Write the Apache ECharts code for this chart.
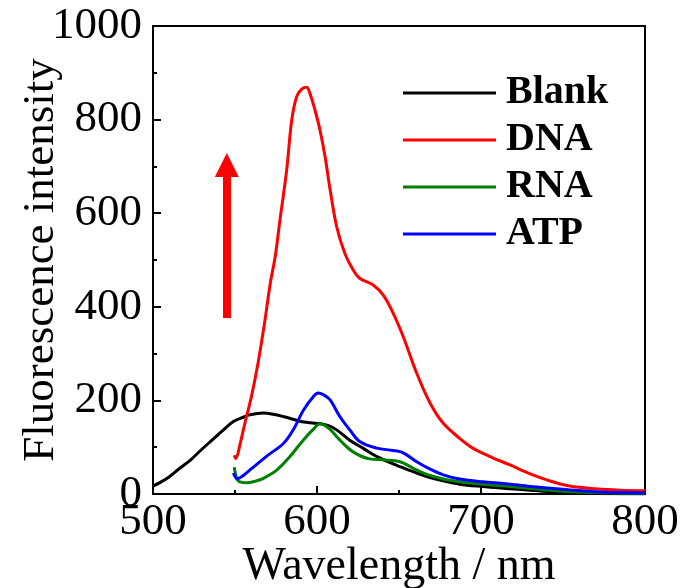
<!DOCTYPE html>
<html><head><meta charset="utf-8">
<script src="https://cdn.jsdelivr.net/npm/echarts@6/dist/echarts.min.js"></script>
<style>html,body{margin:0;padding:0;background:#fff}#c{width:684px;height:588px}</style>
</head><body><div id="c"></div>
<script>
const xTicks = [500, 600, 700, 800];
const yTicks = [0, 200, 400, 600, 800, 1000];

const blankX = [500,505,510,516,523,529,535,543,549,555,559,567,574,580,590,596,602,607,612,620,628,636,646,657,667,677,687,701,715,730,750,770,800];
const blankY = [17,26,37,54,73,93,112,137,155,164,169,173,170,165,155,152,150,146,137,115,98,81,65,50,37,28,21,16,12,8,3,1,0];

const dnaX = [549.5,550.5,553,556,560,564,568,571.5,574.5,577.4,581.5,584.6,587.6,590.7,593.7,595.7,598.8,601.8,604.9,608,612,617,622,626,634,640.4,646.5,652.6,660.8,669,677,687,695,705.5,717.7,730,742,754,770,785,800];
const dnaY = [83,76,105,151,208,279,365,450,507,585,692,799,849,865,869,856,820,778,721,650,571,514,479,461,447,425,386,336,258,194,151,119,98,80,62,43,28,17,11,8,7];

const rnaX = [549.5,550.5,551.5,553,557,562,567,575.4,583.5,591.6,597.7,601.8,604,608,614,622,632,640.4,650.6,658.7,667,677,687,701,715,730,750,770,800];
const rnaY = [57,40,30,26,24,27,33,51,80,115,138,150,148,138,115,90,75,73,69,55,42,32,26,21,17,12,6,3,1];

const atpX = [549,551.4,559,569,579.5,585.5,591.7,597.7,600.8,604,608,614,620,626,636.4,646.5,652.6,660.8,669,677,687,701,715,730,750,770,800];
const atpY = [45,33,51,80,108,137,179,208,216,212,201,165,137,112,98,93,88,69,53,41,32,26,22,16,10,5,2];

const arrowX = 545;
const arrowFrom = 376;
const arrowTo = 703;

const font = "'Liberation Serif','Times New Roman',serif";
const pairs = (xs, ys) => xs.map((x, i) => [x, ys[i]]);

function mk(name, xs, ys, color, extra) {
  return Object.assign({
    name, type: 'line', data: pairs(xs, ys), showSymbol: false, symbol: 'none',
    smooth: 0.35,
    lineStyle: { color, width: 3 }, itemStyle: { color }
  }, extra || {});
}

const chart = echarts.init(document.getElementById('c'), null, { renderer: 'canvas' });
chart.setOption({
  animation: false,
  backgroundColor: '#fff',
  grid: { left: 153, right: 39, top: 26, bottom: 94, containLabel: false, outerBoundsMode: 'none',
          show: true, borderColor: '#000', borderWidth: 2, backgroundColor: 'transparent' },
  legend: {
    orient: 'vertical', left: 403, top: 73, padding: 0, itemWidth: 93, itemHeight: 3, itemGap: 7,
    icon: 'rect', selectedMode: false,
    textStyle: { fontFamily: font, fontWeight: 'bold', fontSize: 40, color: '#000', lineHeight: 40, padding: [0, 0, 0, 5] },
    data: ['Blank', 'DNA', 'RNA', 'ATP']
  },
  xAxis: {
    type: 'value', min: xTicks[0], max: xTicks[xTicks.length - 1], interval: 100,
    name: 'Wavelength / nm', nameLocation: 'middle', nameGap: 50, nameMoveOverlap: false,
    nameTextStyle: { fontFamily: font, fontSize: 46, color: '#000' },
    axisLine: { lineStyle: { color: '#000', width: 2 } },
    axisTick: { inside: true, length: 8, lineStyle: { color: '#000', width: 2 } },
    minorTick: { show: true, splitNumber: 2, length: 4, lineStyle: { color: '#000', width: 2 } },
    axisLabel: { fontFamily: font, fontSize: 45, color: '#000', margin: 6, formatter: v => String(v) },
    splitLine: { show: false }
  },
  yAxis: {
    type: 'value', min: yTicks[0], max: yTicks[yTicks.length - 1], interval: 200,
    name: 'Fluorescence intensity', nameLocation: 'middle', nameGap: 89, nameMoveOverlap: false,
    nameTextStyle: { fontFamily: font, fontSize: 45, color: '#000' },
    axisLine: { lineStyle: { color: '#000', width: 2 } },
    axisTick: { inside: true, length: 8, lineStyle: { color: '#000', width: 2 } },
    minorTick: { show: true, splitNumber: 2, length: 4, lineStyle: { color: '#000', width: 2 } },
    axisLabel: { fontFamily: font, fontSize: 45, color: '#000', margin: 11, formatter: v => String(v) },
    splitLine: { show: false }
  },
  series: [
    mk('Blank', blankX, blankY, '#000000'),
    mk('DNA', dnaX, dnaY, '#ff0000', {
      markLine: {
        silent: true, symbol: ['none', 'triangle'], symbolSize: [24, 24],
        label: { show: false },
        lineStyle: { color: '#ff0000', width: 8, type: 'solid' },
        data: [[{ coord: [arrowX, arrowFrom] }, { coord: [arrowX, arrowTo] }]]
      }
    }),
    mk('RNA', rnaX, rnaY, '#008000'),
    mk('ATP', atpX, atpY, '#0000ff')
  ]
});
</script></body></html>
